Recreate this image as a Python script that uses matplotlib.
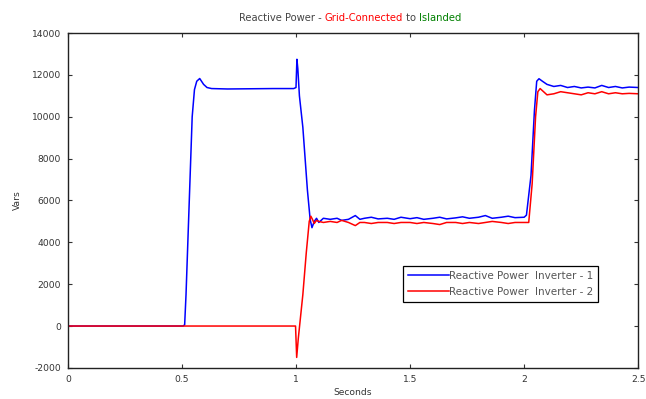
import matplotlib
matplotlib.use("Agg")
import matplotlib.pyplot as plt

plt.rcParams['font.family'] = ['DejaVu Sans']
plt.rcParams['axes.unicode_minus'] = False

# ---- data ----
t_inv1 = [0.0, 0.505, 0.512, 0.518, 0.545, 0.555, 0.565, 0.578, 0.595, 0.61, 0.63, 0.70, 0.80, 0.90, 0.99,
          1.0, 1.004, 1.008, 1.015, 1.03, 1.05, 1.062, 1.07, 1.08, 1.09, 1.10, 1.12, 1.15, 1.18, 1.20,
          1.23, 1.26, 1.28, 1.30, 1.33, 1.36, 1.40, 1.43, 1.46, 1.50, 1.53, 1.56, 1.60, 1.63, 1.66,
          1.70, 1.73, 1.76, 1.80, 1.83, 1.86, 1.90, 1.93, 1.96, 2.0, 2.01, 2.03, 2.045, 2.055, 2.065,
          2.08, 2.10, 2.13, 2.16, 2.19, 2.22, 2.25, 2.28, 2.31, 2.34, 2.37, 2.40, 2.43, 2.46, 2.5]
q_inv1 = [0, 0, 60, 1500, 10000, 11300, 11700, 11830, 11550, 11400, 11350, 11330, 11340, 11350, 11350,
          11400, 12750, 12300, 11000, 9500, 6500, 5100, 4700, 5000, 5150, 4950, 5150, 5100, 5150, 5050,
          5100, 5280, 5100, 5150, 5200, 5120, 5150, 5100, 5200, 5130, 5180, 5100, 5150, 5200, 5120,
          5170, 5220, 5150, 5200, 5280, 5150, 5200, 5250, 5180, 5200, 5300, 7200, 10300, 11700, 11820,
          11700, 11550, 11450, 11500, 11400, 11450, 11380, 11420, 11380, 11500, 11400, 11450, 11380, 11420, 11400]

t_inv2 = [0.0, 0.998, 1.003, 1.01, 1.03, 1.045, 1.058, 1.065, 1.072, 1.08, 1.09, 1.10, 1.12, 1.15, 1.18,
          1.20, 1.23, 1.26, 1.28, 1.30, 1.33, 1.36, 1.40, 1.43, 1.46, 1.50, 1.53, 1.56, 1.60, 1.63,
          1.66, 1.70, 1.73, 1.76, 1.80, 1.83, 1.86, 1.90, 1.93, 1.96, 2.0, 2.02, 2.035, 2.05, 2.06,
          2.07, 2.08, 2.10, 2.13, 2.16, 2.19, 2.22, 2.25, 2.28, 2.31, 2.34, 2.37, 2.40, 2.43, 2.46, 2.5]
q_inv2 = [0, 0, -1500, -600, 1500, 3500, 5000, 5250, 5100, 4900, 5050, 5000, 4950, 5000, 4950,
          5050, 4950, 4800, 4950, 4950, 4900, 4950, 4950, 4900, 4950, 4950, 4900, 4950, 4900, 4850,
          4950, 4950, 4900, 4950, 4900, 4950, 5000, 4950, 4900, 4950, 4950, 4950, 6800, 10000, 11200,
          11350, 11250, 11050, 11100, 11200, 11150, 11100, 11050, 11150, 11100, 11200, 11100, 11150, 11100, 11120, 11100]

x_ticks = [0, 0.5, 1, 1.5, 2, 2.5]
x_tick_labels = ['0', '0.5', '1', '1.5', '2', '2.5']
y_ticks = [-2000, 0, 2000, 4000, 6000, 8000, 10000, 12000, 14000]
series_labels = ['Reactive Power  Inverter - 1', 'Reactive Power  Inverter - 2']

FS = 6.6

fig = plt.figure(figsize=(6.46, 3.99), dpi=100)
ax = fig.add_axes([0.105, 0.078, 0.883, 0.839])

ax.plot(t_inv1, q_inv1, color='#0000ff', lw=1.1, label=series_labels[0])
ax.plot(t_inv2, q_inv2, color='#ff0000', lw=1.1, label=series_labels[1])

ax.set_xlim(0, 2.5)
ax.set_ylim(-2000, 14000)
ax.set_xticks(x_ticks)
ax.set_xticklabels(x_tick_labels)
ax.set_yticks(y_ticks)
ax.tick_params(direction='in', top=True, right=True, labelsize=FS, colors='#333333', length=3, width=0.8)
ax.tick_params(axis='x', pad=5)
ax.tick_params(axis='y', pad=5)
for s in ax.spines.values():
    s.set_linewidth(1.0)
    s.set_color('#222222')
ax.set_xlabel('Seconds', fontsize=FS, color='#333333', labelpad=3)
ax.set_ylabel('Vars', fontsize=FS, color='#333333', labelpad=7)

LFS = 7.5
leg = ax.legend(loc='upper left', bbox_to_anchor=(0.588, 0.305), fontsize=LFS, handlelength=3.85,
                handletextpad=0.0, borderpad=0.5, labelspacing=0.55, borderaxespad=0.0,
                fancybox=False, framealpha=1, edgecolor='black')
leg.get_frame().set_linewidth(0.9)
for txt in leg.get_texts():
    txt.set_color('#555555')

# multicolor title
parts = [('Reactive Power - ', '#444444'), ('Grid-Connected', '#ff0000'), (' to ', '#444444'), ('Islanded', '#008000')]
fig.canvas.draw()
renderer = fig.canvas.get_renderer()
texts = []
widths = []
for s, c in parts:
    tx = fig.text(0, 0.955, s, color=c, fontsize=7.2, ha='left', va='center')
    texts.append(tx)
    widths.append(tx.get_window_extent(renderer).width)
total = sum(widths)
x0 = 350 - total / 2
for tx, w in zip(texts, widths):
    tx.set_x(x0 / 646)
    x0 += w

fig.savefig('out.png', dpi=100)
